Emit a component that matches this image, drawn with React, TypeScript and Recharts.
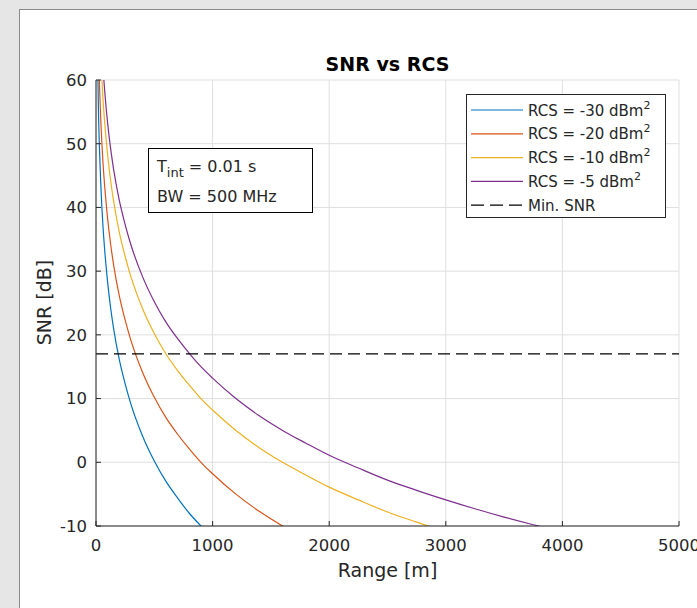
import { LineChart, Line, XAxis, YAxis, CartesianGrid, ReferenceLine } from "recharts";

// range samples [m]
const ranges = [
  10, 20, 30, 40, 50, 60, 80, 100, 125, 150, 200, 250, 300, 400, 500, 600, 700, 800, 900, 1000,
  1200, 1400, 1600, 1800, 2000, 2250, 2500, 2750, 3000, 3250, 3500, 3750, 4000,
];

// SNR [dB]
const snrRcs30 = [68.2, 56.1, 49.1, 44.1, 40.2, 37.0, 32.1, 28.2, 24.3, 21.1, 16.1, 12.3, 9.1, 4.1, 0.2, -3.0, -5.6, -8.0, -10.0, -11.8];
const snrRcs20 = [78.2, 66.1, 59.1, 54.1, 50.2, 47.0, 42.1, 38.2, 34.3, 31.1, 26.1, 22.3, 19.1, 14.1, 10.2, 7.0, 4.4, 2.1, 0.0, -1.8, -5.0, -7.7, -10.0, -12.0];
const snrRcs10 = [88.2, 76.1, 69.1, 64.1, 60.2, 57.0, 52.1, 48.2, 44.3, 41.1, 36.1, 32.3, 29.1, 24.1, 20.2, 17.0, 14.4, 12.1, 10.0, 8.2, 5.0, 2.3, 0.0, -2.0, -3.9, -5.9, -7.8, -9.4, -10.9];
const snrRcs5 = [93.2, 81.1, 74.1, 69.1, 65.2, 62.0, 57.1, 53.2, 49.3, 46.1, 41.1, 37.3, 34.1, 29.1, 25.2, 22.0, 19.4, 17.1, 15.0, 13.2, 10.0, 7.3, 5.0, 3.0, 1.1, -0.9, -2.8, -4.4, -5.9, -7.3, -8.6, -9.8, -10.9];

const minSnr = 17;

const xTicks = [0, 1000, 2000, 3000, 4000, 5000];
const yTicks = [-10, 0, 10, 20, 30, 40, 50, 60];

const series = [
  { key: "rcs30", label: "RCS = -30 dBm", values: snrRcs30, color: "#0072BD" },
  { key: "rcs20", label: "RCS = -20 dBm", values: snrRcs20, color: "#D95319" },
  { key: "rcs10", label: "RCS = -10 dBm", values: snrRcs10, color: "#EDB120" },
  { key: "rcs5", label: "RCS = -5 dBm", values: snrRcs5, color: "#7E2F8E" },
];

const data = ranges.map((r, i) => {
  const row: Record<string, number | null> = { range: r };
  series.forEach((s) => {
    row[s.key] = i < s.values.length ? s.values[i] : null;
  });
  return row;
});

const FONT = "'DejaVu Sans', sans-serif";
const AX = "#262626";
const tickStyle = { fontSize: 16.5, fill: AX, fontFamily: FONT };

const App = () => {
  return (
    <div style={{ position: "absolute", left: 0, top: 0, width: 697, height: 608, background: "#e6e6e6", overflow: "hidden" }}>
      <div style={{ position: "absolute", left: 19, top: 9, width: 700, height: 620, background: "#fff", borderLeft: "1px solid #8a8a8a", borderTop: "1px solid #8a8a8a" }} />

      <div style={{ position: "absolute", left: 0, top: 0 }}>
        <LineChart width={697} height={608} data={data} margin={{ top: 80, right: 18, bottom: 52, left: 36 }}>
          <CartesianGrid stroke="#dfdfdf" strokeWidth={1} />
          <XAxis
            dataKey="range"
            type="number"
            domain={[0, 5000]}
            ticks={xTicks}
            allowDataOverflow
            height={30}
            tickSize={-5}
            tickMargin={18}
            stroke={AX}
            tick={tickStyle}
          />
          <XAxis xAxisId="top" orientation="top" type="number" domain={[0, 5000]} ticks={xTicks} height={0} tickSize={-5} tick={false} stroke={AX} />
          <YAxis
            type="number"
            domain={[-10, 60]}
            ticks={yTicks}
            allowDataOverflow
            width={60}
            tickSize={-5}
            tickMargin={14}
            stroke={AX}
            tick={tickStyle}
          />
          <YAxis yAxisId="right" orientation="right" type="number" domain={[-10, 60]} ticks={yTicks} width={0} tickSize={-5} tick={false} stroke={AX} />
          {series.map((s) => (
            <Line
              key={s.key}
              type="monotone"
              dataKey={s.key}
              stroke={s.color}
              strokeWidth={1.2}
              dot={false}
              isAnimationActive={false}
            />
          ))}
          <ReferenceLine y={minSnr} stroke="#000" strokeWidth={1.2} strokeDasharray="12 6" />
        </LineChart>
      </div>

      <svg width={697} height={608} style={{ position: "absolute", left: 0, top: 0, pointerEvents: "none" }} fontFamily={FONT}>
        <text x={387.5} y={71} textAnchor="middle" fontSize={19} fontWeight="bold" fill="#000">SNR vs RCS</text>
        <text x={387.5} y={577} textAnchor="middle" fontSize={19} fill={AX}>Range [m]</text>
        <text x={51} y={302.5} textAnchor="middle" fontSize={19} fill={AX} transform="rotate(-90 51 302.5)">SNR [dB]</text>

        {/* annotation */}
        <rect x={148.5} y={148.5} width={164} height={64} fill="#fff" stroke="#000" strokeWidth={1} />
        <text x={157} y={171.5} fontSize={16} fill={AX}>
          T<tspan dy={5} fontSize={13}>int</tspan><tspan dy={-5}> = 0.01 s</tspan>
        </text>
        <text x={157} y={201.5} fontSize={16} fill={AX}>BW = 500 MHz</text>

        {/* legend */}
        <rect x={466.5} y={94.5} width={199} height={123} fill="#fff" stroke={AX} strokeWidth={1} />
        {series.map((s, i) => {
          const y = 110 + i * 23.8;
          return (
            <g key={s.key}>
              <line x1={471} x2={523} y1={y} y2={y} stroke={s.color} strokeWidth={1.2} />
              <text x={528} y={y + 5.5} fontSize={15} fill={AX}>
                {s.label}<tspan dy={-7} fontSize={11}>2</tspan>
              </text>
            </g>
          );
        })}
        <line x1={471} x2={523} y1={205.2} y2={205.2} stroke="#000" strokeWidth={1.2} strokeDasharray="13 6" />
        <text x={528} y={210.7} fontSize={15} fill={AX}>Min. SNR</text>
      </svg>
    </div>
  );
};

export default App;
